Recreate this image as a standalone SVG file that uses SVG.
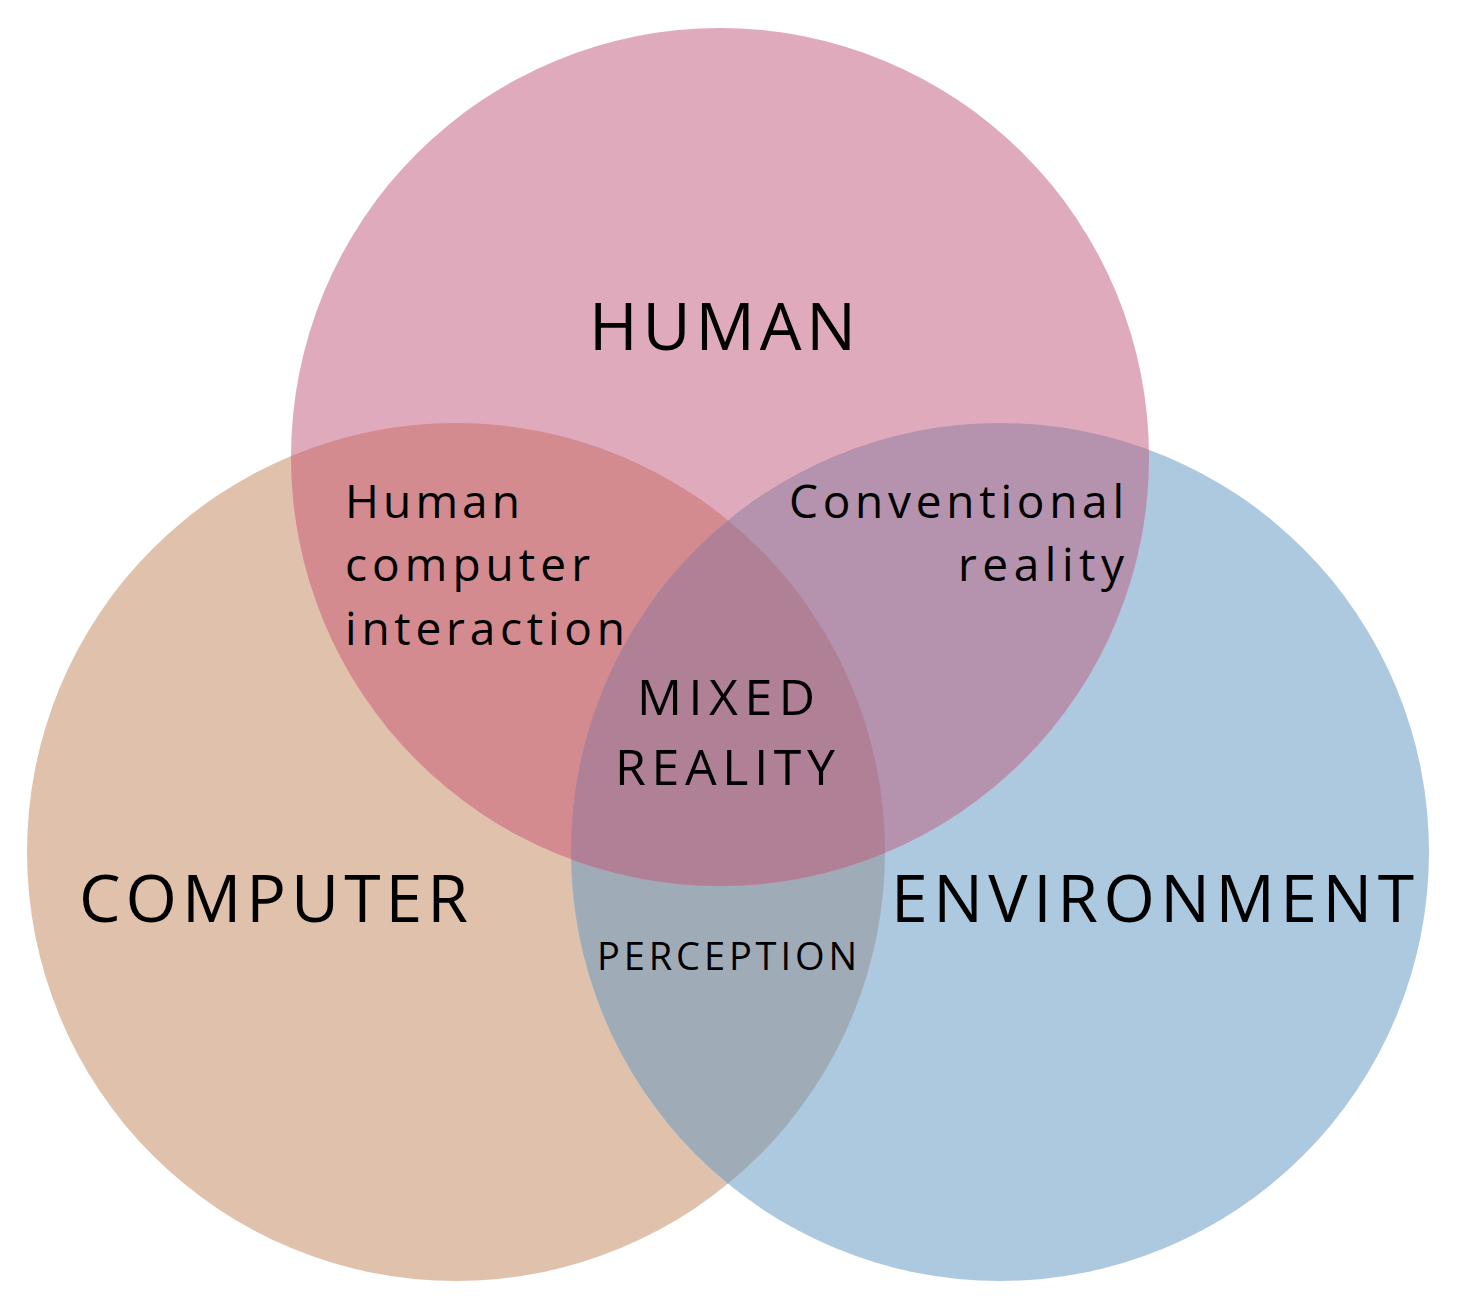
<svg xmlns="http://www.w3.org/2000/svg" width="1461" height="1311" viewBox="0 0 1461 1311">
<style>
text{font-family:"Open Sans","Liberation Sans",sans-serif;fill:#000;}
.big{font-size:66px;}
.mid{font-size:46px;}
.mx{font-size:50px;}
.sm{font-size:38px;}
</style>
<defs>
<clipPath id="cC"><circle cx="456" cy="852" r="429"/></clipPath>
<clipPath id="cE"><circle cx="1000" cy="852" r="429"/></clipPath>
</defs>
<rect width="1461" height="1311" fill="#fff"/>
<g id="computer"><circle cx="456" cy="852" r="429" fill="#e0c2ac"/></g>
<g id="environment"><circle cx="1000" cy="852" r="429" fill="#acc9df"/></g>
<g id="perception-region" clip-path="url(#cC)"><circle cx="1000" cy="852" r="429" fill="#9facb8"/></g>
<g id="human"><circle cx="720" cy="457" r="429" fill="#e0aabd"/></g>
<g id="hci-region" clip-path="url(#cC)"><circle cx="720" cy="457" r="429" fill="#d48b8f"/></g>
<g id="conventional-region" clip-path="url(#cE)"><circle cx="720" cy="457" r="429" fill="#b592ad"/></g>
<g id="mixed-region" clip-path="url(#cC)"><g clip-path="url(#cE)"><circle cx="720" cy="457" r="429" fill="#b08096"/></g></g>
<g id="labels">
<text class="big" x="589" y="350" textLength="267" lengthAdjust="spacing">HUMAN</text>
<text class="big" x="79" y="922" textLength="389" lengthAdjust="spacing">COMPUTER</text>
<text class="big" x="891" y="922" textLength="523" lengthAdjust="spacing">ENVIRONMENT</text>
<text class="mid" x="345" y="518" textLength="175" lengthAdjust="spacing">Human</text>
<text class="mid" x="345" y="581" textLength="245" lengthAdjust="spacing">computer</text>
<text class="mid" x="345" y="645" textLength="280" lengthAdjust="spacing">interaction</text>
<text class="mid" x="789" y="518" textLength="335" lengthAdjust="spacing">Conventional</text>
<text class="mid" x="958" y="581" textLength="166" lengthAdjust="spacing">reality</text>
<text class="mx" x="637" y="715" textLength="178" lengthAdjust="spacing">MIXED</text>
<text class="mx" x="615" y="785" textLength="220" lengthAdjust="spacing">REALITY</text>
<text class="sm" x="597" y="970" textLength="260" lengthAdjust="spacing">PERCEPTION</text>
</g>
</svg>
